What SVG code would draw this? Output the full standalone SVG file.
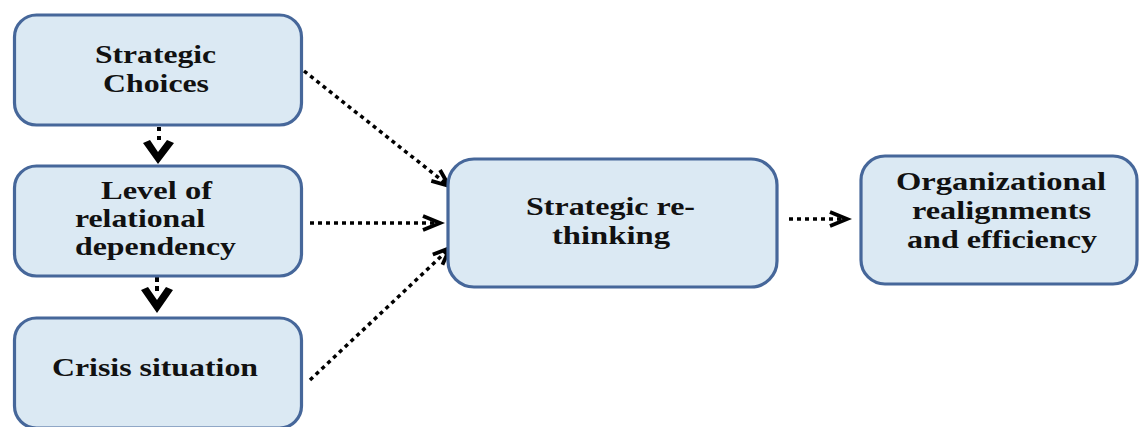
<svg xmlns="http://www.w3.org/2000/svg" width="1139" height="427" viewBox="0 0 1139 427">
<style>
.box{fill:#dbe9f3;stroke:#46679a;stroke-width:3.2}
.t{font-family:"Liberation Serif","Times New Roman",serif;font-weight:bold;font-size:25.5px;fill:#111}
.dot{fill:none;stroke:#000;stroke-width:3.5;stroke-dasharray:4 4;marker-end:url(#arr)}
.chev{fill:#000}
</style>
<defs>
<marker id="arr" markerUnits="userSpaceOnUse" markerWidth="24" markerHeight="20" refX="20" refY="10" orient="auto" overflow="visible">
<path d="M3,3 L20,10 L3,17" fill="none" stroke="#000" stroke-width="3.8" stroke-linejoin="miter"/>
</marker>
</defs>
<rect width="1139" height="427" fill="#fff"/>
<g id="connectors">
<line class="dot" x1="304" y1="71" x2="449" y2="186"/>
<line class="dot" x1="310" y1="223" x2="440" y2="223"/>
<line class="dot" x1="310" y1="380" x2="450" y2="248"/>
<line class="dot" x1="789" y1="219" x2="847" y2="219"/>
<line x1="159" y1="127" x2="159" y2="142" stroke="#000" stroke-width="4" stroke-dasharray="4 5"/>
<path class="chev" d="M143,143 L158,164 L174,143 L167,140 L158,152 L150,140 Z"/>
<line x1="157" y1="277" x2="157" y2="291" stroke="#000" stroke-width="4" stroke-dasharray="5 4"/>
<path class="chev" d="M141,290 L157,313 L173,290 L166,287 L157,300 L148,287 Z"/>
</g>
<g id="strategic-choices">
<rect class="box" x="14.5" y="15" width="287" height="110" rx="22"/>
<text class="t" x="95" y="63" textLength="121" lengthAdjust="spacingAndGlyphs">Strategic</text>
<text class="t" x="103" y="92" textLength="106" lengthAdjust="spacingAndGlyphs">Choices</text>
</g>
<g id="relational-dependency">
<rect class="box" x="14.5" y="166" width="287" height="110" rx="22"/>
<text class="t" x="101" y="199" textLength="111" lengthAdjust="spacingAndGlyphs">Level of</text>
<text class="t" x="75" y="227" textLength="130" lengthAdjust="spacingAndGlyphs">relational</text>
<text class="t" x="75" y="255" textLength="161" lengthAdjust="spacingAndGlyphs">dependency</text>
</g>
<g id="crisis-situation">
<rect class="box" x="14.5" y="318" width="287" height="110" rx="22"/>
<text class="t" x="52" y="376" textLength="206" lengthAdjust="spacingAndGlyphs">Crisis situation</text>
</g>
<g id="strategic-rethinking">
<rect class="box" x="448" y="159" width="329" height="128" rx="26"/>
<text class="t" x="526" y="215" textLength="169" lengthAdjust="spacingAndGlyphs">Strategic re-</text>
<text class="t" x="552" y="244" textLength="118" lengthAdjust="spacingAndGlyphs">thinking</text>
</g>
<g id="organizational-realignments">
<rect class="box" x="861" y="156" width="276" height="128" rx="24"/>
<text class="t" x="896" y="190" textLength="210" lengthAdjust="spacingAndGlyphs">Organizational</text>
<text class="t" x="912" y="219" textLength="179" lengthAdjust="spacingAndGlyphs">realignments</text>
<text class="t" x="907" y="248" textLength="190" lengthAdjust="spacingAndGlyphs">and efficiency</text>
</g>
</svg>
